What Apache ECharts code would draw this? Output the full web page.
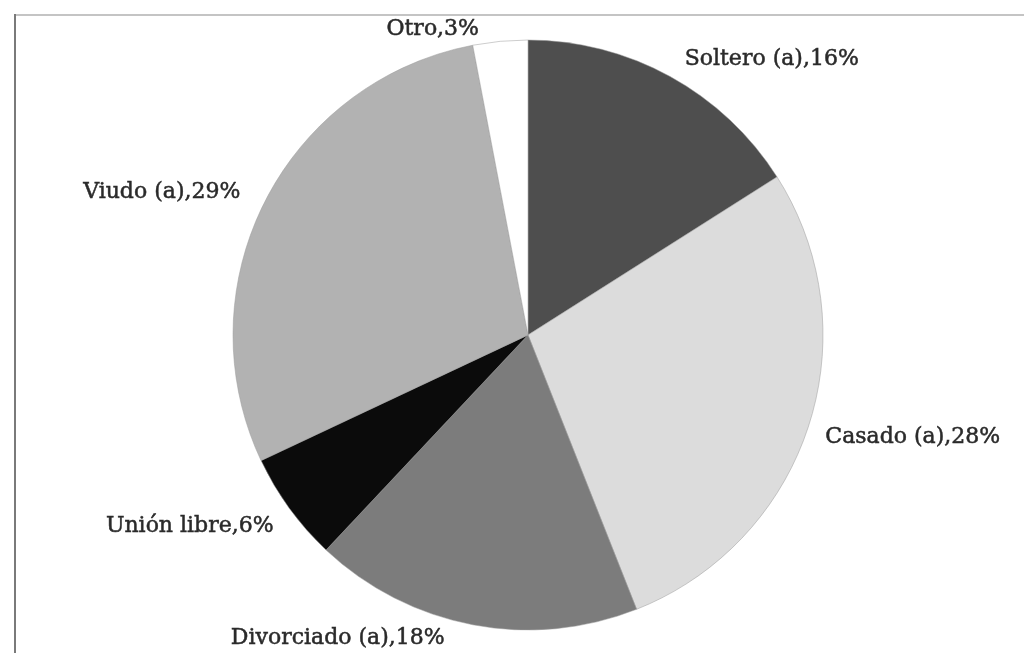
<!DOCTYPE html>
<html>
<head>
<meta charset="utf-8">
<script src="https://cdn.jsdelivr.net/npm/echarts@6/dist/echarts.min.js"></script>
<style>
  html, body { margin: 0; padding: 0; background: #fff; }
  #chart { width: 1024px; height: 653px; }
</style>
</head>
<body>
<div id="chart"></div>
<script>
// Estado civil: share of respondents (%)
const categories = ['Soltero (a)', 'Casado (a)', 'Divorciado (a)', 'Unión libre', 'Viudo (a)', 'Otro'];
const percentages = [16, 28, 18, 6, 29, 3];
const sliceColors = ['#4e4e4e', '#dcdcdc', '#7c7c7c', '#0b0b0b', '#b2b2b2', '#ffffff'];

// Label anchor points (label centre), one per category
const labelCenters = [
  [772, 60], [913, 438], [338, 639], [190, 527], [162, 193], [433, 30]
];

const chart = echarts.init(document.getElementById('chart'));
chart.setOption({
  backgroundColor: '#ffffff',
  animation: false,
  graphic: [
    { type: 'line', shape: { x1: 14, y1: 15, x2: 1024, y2: 15 }, style: { stroke: '#c4c4c4', lineWidth: 2 } },
    { type: 'line', shape: { x1: 15, y1: 14, x2: 15, y2: 653 }, style: { stroke: '#7a7a7a', lineWidth: 2 } }
  ],
  series: [{
    type: 'pie',
    center: [528, 335],
    radius: 295,
    startAngle: 90,
    clockwise: true,
    avoidLabelOverlap: false,
    itemStyle: { borderColor: '#9a9a9a', borderWidth: 0.5 },
    label: {
      show: true,
      position: 'outside',
      formatter: p => p.name + ',' + p.value + '%',
      fontFamily: 'DejaVu Serif',
      fontSize: 22,
      color: '#2a2a2a',
      textBorderColor: '#2a2a2a',
      textBorderWidth: 0.5
    },
    labelLine: { show: false },
    labelLayout: params => {
      const c = labelCenters[params.dataIndex];
      return {
        x: c[0] - params.labelRect.width / 2,
        y: c[1] - params.labelRect.height / 2,
        align: 'left',
        verticalAlign: 'top'
      };
    },
    emphasis: { disabled: true },
    data: categories.map((name, i) => ({
      name,
      value: percentages[i],
      itemStyle: { color: sliceColors[i] }
    }))
  }]
});
</script>
</body>
</html>
